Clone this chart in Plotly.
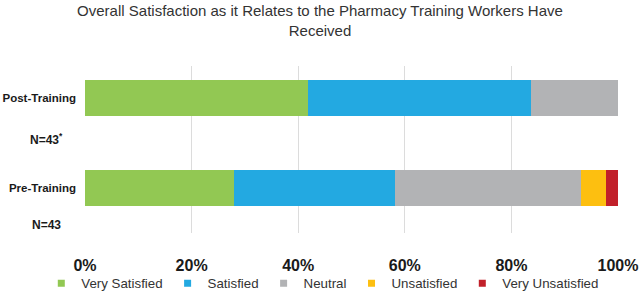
import plotly.graph_objects as go

categories = ["Post-Training", "Pre-Training"]
cat_pos = [1, 0]
n_labels = ["N=43<sup>*</sup>", "N=43"]
series_names = ["Very Satisfied", "Satisfied", "Neutral", "Unsatisfied", "Very Unsatisfied"]
# percentages (counts out of 43)
very_satisfied = [41.86, 27.91]
satisfied = [41.86, 30.23]
neutral = [16.28, 34.88]
unsatisfied = [0.0, 4.65]
very_unsatisfied = [0.0, 2.33]
series_values = [very_satisfied, satisfied, neutral, unsatisfied, very_unsatisfied]
colors = ["#92C853", "#23A9E1", "#B2B3B5", "#FDBF10", "#C1202A"]
x_ticks = [0, 20, 40, 60, 80, 100]

FONT = "Liberation Sans, Arial, sans-serif"

fig = go.Figure()
for name, vals, col in zip(series_names, series_values, colors):
    fig.add_trace(go.Bar(
        y=cat_pos, x=vals, orientation="h", name=name,
        marker=dict(color=col, line=dict(width=0)),
        width=0.4, showlegend=False,
    ))
for name, col in zip(series_names, colors):
    # legend entry with small square marker
    fig.add_trace(go.Scatter(
        x=[None], y=[None], mode="markers", name=name,
        marker=dict(symbol="square", size=7, color=col),
        showlegend=True,
    ))

n_offsets = [0.455, 0.415]
for pos, lab, off in zip(cat_pos, n_labels, n_offsets):
    fig.add_annotation(
        x=-0.073, xref="paper", xanchor="center",
        y=pos - off, yref="y", yanchor="middle",
        text="<b>" + lab + "</b>", showarrow=False,
        font=dict(family=FONT, size=12, color="#1a1a1a"),
    )

fig.update_layout(
    width=640, height=293,
    barmode="stack",
    margin=dict(l=85, r=22, t=66, b=60, autoexpand=False),
    paper_bgcolor="white", plot_bgcolor="white",
    font=dict(family=FONT, color="#333333"),
    title=dict(
        text="Overall Satisfaction as it Relates to the Pharmacy Training Workers Have<br>Received",
        x=0.5, xanchor="center", y=0.945, yanchor="top",
        font=dict(family=FONT, size=15, color="#333333"),
    ),
    xaxis=dict(
        range=[0, 100], tickvals=x_ticks,
        ticktext=["<b>%d%%</b>" % t for t in x_ticks],
        showgrid=True, gridcolor="#DCDCDC", gridwidth=1,
        zeroline=False, showline=False, automargin=False,
        tickfont=dict(family=FONT, size=16, color="#1a1a1a"),
        ticklabelstandoff=21,
    ),
    yaxis=dict(
        range=[-0.5, 1.356], tickvals=cat_pos,
        ticktext=["<b>" + c + "</b>" for c in categories],
        showgrid=False, zeroline=False, showline=False, automargin=False,
        tickfont=dict(family=FONT, size=11.5, color="#1a1a1a"),
        ticklabelstandoff=8,
    ),
    legend=dict(
        orientation="h", x=-0.082, xanchor="left", y=-0.21, yanchor="top",
        font=dict(family=FONT, size=13.3, color="#333333"),
        itemwidth=30, tracegroupgap=0, traceorder="normal",
        bgcolor="rgba(0,0,0,0)",
    ),
)

fig.write_html(
    "out.html",
    config={"displayModeBar": False},
    post_script="document.body.style.margin='0';document.body.style.overflow='hidden';",
)
